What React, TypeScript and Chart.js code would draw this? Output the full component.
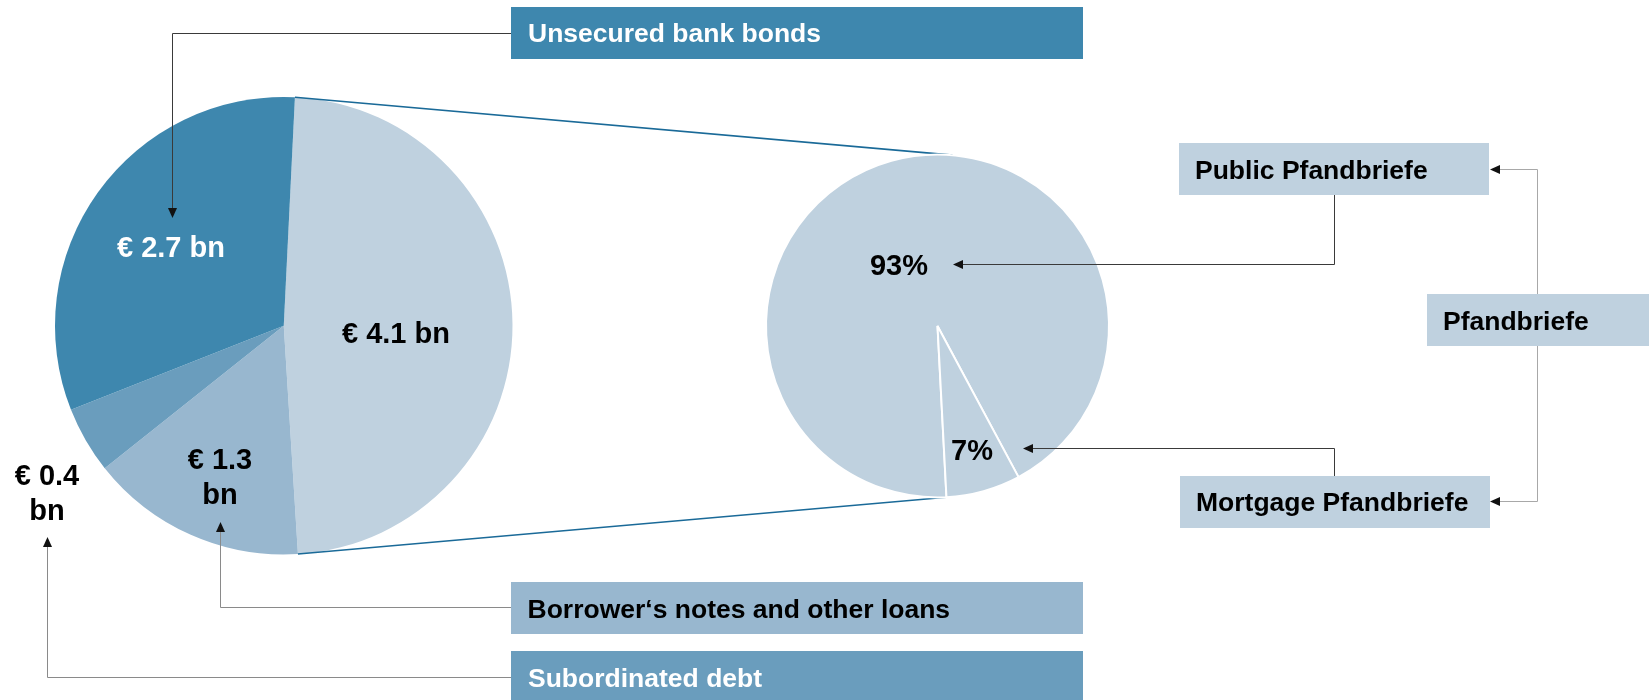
import React, { useEffect, useRef } from "react";
import { Chart, registerables } from "chart.js";

Chart.register(...registerables);

// ---------- data ----------
const fundingCategories = [
  "Pfandbriefe",
  "Borrower\u2018s notes and other loans",
  "Subordinated debt",
  "Unsecured bank bonds",
];
const fundingValues = [4.1, 1.3, 0.4, 2.7]; // € bn
const fundingColors = ["#BFD1DF", "#98B7CF", "#6A9DBD", "#3E87AE"];

const pfandbriefCategories = ["Public Pfandbriefe", "Mortgage Pfandbriefe"];
const pfandbriefShares = [93, 7]; // %
const pfandbriefColors = ["#BFD1DF", "#BFD1DF"];

const W = 1649;
const H = 700;
const FONT = '"Liberation Sans", Arial, Helvetica, sans-serif';
const CONNECTOR = "#1A6A98";

type Dir = "up" | "down" | "left";
function head(x: number, y: number, dir: Dir, color: string, key: string) {
  const L = 10;
  const h = 4.5;
  let pts = "";
  if (dir === "down") pts = `${x},${y} ${x - h},${y - L} ${x + h},${y - L}`;
  if (dir === "up") pts = `${x},${y} ${x - h},${y + L} ${x + h},${y + L}`;
  if (dir === "left") pts = `${x},${y} ${x + L},${y - h} ${x + L},${y + h}`;
  return <polygon key={key} points={pts} fill={color} />;
}

const fmtBn = (v: number) => `\u20AC ${v.toFixed(1)}`;

export default function App() {
  const leftRef = useRef<HTMLCanvasElement>(null);
  const rightRef = useRef<HTMLCanvasElement>(null);

  useEffect(() => {
    const left = new Chart(leftRef.current!, {
      type: "pie",
      data: {
        labels: fundingCategories,
        datasets: [
          {
            data: fundingValues,
            backgroundColor: fundingColors,
            borderWidth: 0,
          },
        ],
      },
      options: {
        responsive: false,
        animation: false,
        events: [],
        rotation: 2.8,
        layout: { padding: { left: 55, top: 97, right: W - 512.5, bottom: H - 554.5 } },
        plugins: { legend: { display: false }, tooltip: { enabled: false } },
      },
    });

    const connectorPlugin = {
      id: "zoomConnector",
      beforeDatasetsDraw(chart: any) {
        const la: any = left.getDatasetMeta(0).data[0];
        const lp = la.getProps(["x", "y", "startAngle", "endAngle", "outerRadius"], true);
        const r0: any = chart.getDatasetMeta(0).data[1];
        const rp = r0.getProps(["x", "y", "startAngle", "endAngle", "outerRadius"], true);
        const topAngle = -Math.PI / 2 + (5 * Math.PI) / 180;
        const ctx = chart.ctx;
        ctx.save();
        ctx.strokeStyle = CONNECTOR;
        ctx.lineWidth = 1.6;
        ctx.beginPath();
        ctx.moveTo(lp.x + lp.outerRadius * Math.cos(lp.startAngle), lp.y + lp.outerRadius * Math.sin(lp.startAngle));
        ctx.lineTo(rp.x + rp.outerRadius * Math.cos(topAngle), rp.y + rp.outerRadius * Math.sin(topAngle));
        ctx.moveTo(lp.x + lp.outerRadius * Math.cos(lp.endAngle), lp.y + lp.outerRadius * Math.sin(lp.endAngle));
        ctx.lineTo(rp.x + rp.outerRadius * Math.cos(rp.endAngle), rp.y + rp.outerRadius * Math.sin(rp.endAngle));
        ctx.stroke();
        ctx.restore();
      },
    };

    const right = new Chart(rightRef.current!, {
      type: "pie",
      data: {
        labels: pfandbriefCategories,
        datasets: [
          {
            data: pfandbriefShares,
            backgroundColor: pfandbriefColors,
            borderColor: "#FFFFFF",
            borderWidth: 2,
          },
        ],
      },
      options: {
        responsive: false,
        animation: false,
        events: [],
        rotation: 177,
        layout: { padding: { left: 765, top: 153.5, right: W - 1110, bottom: H - 498.5 } },
        plugins: { legend: { display: false }, tooltip: { enabled: false } },
      },
      plugins: [connectorPlugin],
    });

    return () => {
      right.destroy();
      left.destroy();
    };
  }, []);

  const canvasStyle: React.CSSProperties = {
    position: "absolute",
    left: 0,
    top: 0,
    width: W,
    height: H,
    display: "block",
  };

  const boxText = { fontFamily: FONT, fontWeight: 700, fontSize: 26.5 } as const;
  const pieText = { fontFamily: FONT, fontWeight: 700, fontSize: 29 } as const;
  const dark = "#3A3A3A";
  const grey = "#8A8A8A";
  const lightGrey = "#A8A8A8";

  return (
    <div
      style={{
        position: "fixed",
        left: 0,
        top: 0,
        width: W,
        height: H,
        background: "#FFFFFF",
        overflow: "hidden",
      }}
    >
      <canvas ref={leftRef} width={W} height={H} style={canvasStyle} />
      <canvas ref={rightRef} width={W} height={H} style={canvasStyle} />
      <svg
        width={W}
        height={H}
        style={{ position: "absolute", left: 0, top: 0, pointerEvents: "none" }}
      >
        {/* boxes */}
        <rect x={511} y={7} width={572} height={52} fill={fundingColors[3]} />
        <rect x={511} y={582} width={572} height={52} fill={fundingColors[1]} />
        <rect x={511} y={651} width={572} height={52} fill={fundingColors[2]} />
        <rect x={1179} y={143} width={310} height={52} fill="#BFD1DF" />
        <rect x={1427} y={294} width={222} height={52} fill="#BFD1DF" />
        <rect x={1180} y={476} width={310} height={52} fill="#BFD1DF" />

        {/* leader lines */}
        <polyline points="511,33.5 172.5,33.5 172.5,210" fill="none" stroke={dark} strokeWidth={1} />
        {head(172.5, 218, "down", "#111", "h1")}
        <polyline points="511,607.5 220.5,607.5 220.5,530" fill="none" stroke={grey} strokeWidth={1} />
        {head(220.5, 522, "up", "#111", "h2")}
        <polyline points="511,677.5 47.5,677.5 47.5,545" fill="none" stroke={grey} strokeWidth={1} />
        {head(47.5, 537, "up", "#111", "h3")}
        <polyline points="1334.5,195 1334.5,264.5 961,264.5" fill="none" stroke={dark} strokeWidth={1} />
        {head(953, 264.5, "left", "#111", "h4")}
        <polyline points="1334.5,476 1334.5,448.5 1031,448.5" fill="none" stroke={dark} strokeWidth={1} />
        {head(1023, 448.5, "left", "#111", "h5")}
        <polyline points="1537.5,294 1537.5,169.5 1498,169.5" fill="none" stroke={lightGrey} strokeWidth={1} />
        {head(1490, 169.5, "left", "#111", "h6")}
        <polyline points="1537.5,346 1537.5,501.5 1498,501.5" fill="none" stroke={lightGrey} strokeWidth={1} />
        {head(1490, 501.5, "left", "#111", "h7")}

        {/* box labels */}
        <text x={528} y={42} fill="#FFFFFF" style={boxText}>{fundingCategories[3]}</text>
        <text x={527.5} y={617.5} fill="#000000" style={boxText}>{fundingCategories[1]}</text>
        <text x={528} y={687} fill="#FFFFFF" style={boxText}>{fundingCategories[2]}</text>
        <text x={1195} y={179} fill="#000000" style={boxText}>{pfandbriefCategories[0]}</text>
        <text x={1443} y={330} fill="#000000" style={boxText}>{fundingCategories[0]}</text>
        <text x={1196} y={511} fill="#000000" style={boxText}>{pfandbriefCategories[1]}</text>

        {/* pie value labels */}
        <text x={171} y={257} textAnchor="middle" fill="#FFFFFF" style={pieText}>{fmtBn(fundingValues[3])} bn</text>
        <text x={396} y={343} textAnchor="middle" fill="#000000" style={pieText}>{fmtBn(fundingValues[0])} bn</text>
        <text x={220} y={469} textAnchor="middle" fill="#000000" style={pieText}>{fmtBn(fundingValues[1])}</text>
        <text x={220} y={504} textAnchor="middle" fill="#000000" style={pieText}>bn</text>
        <text x={47} y={485} textAnchor="middle" fill="#000000" style={pieText}>{fmtBn(fundingValues[2])}</text>
        <text x={47} y={520} textAnchor="middle" fill="#000000" style={pieText}>bn</text>
        <text x={899} y={275} textAnchor="middle" fill="#000000" style={pieText}>{pfandbriefShares[0]}%</text>
        <text x={972} y={460} textAnchor="middle" fill="#000000" style={pieText}>{pfandbriefShares[1]}%</text>
      </svg>
    </div>
  );
}
